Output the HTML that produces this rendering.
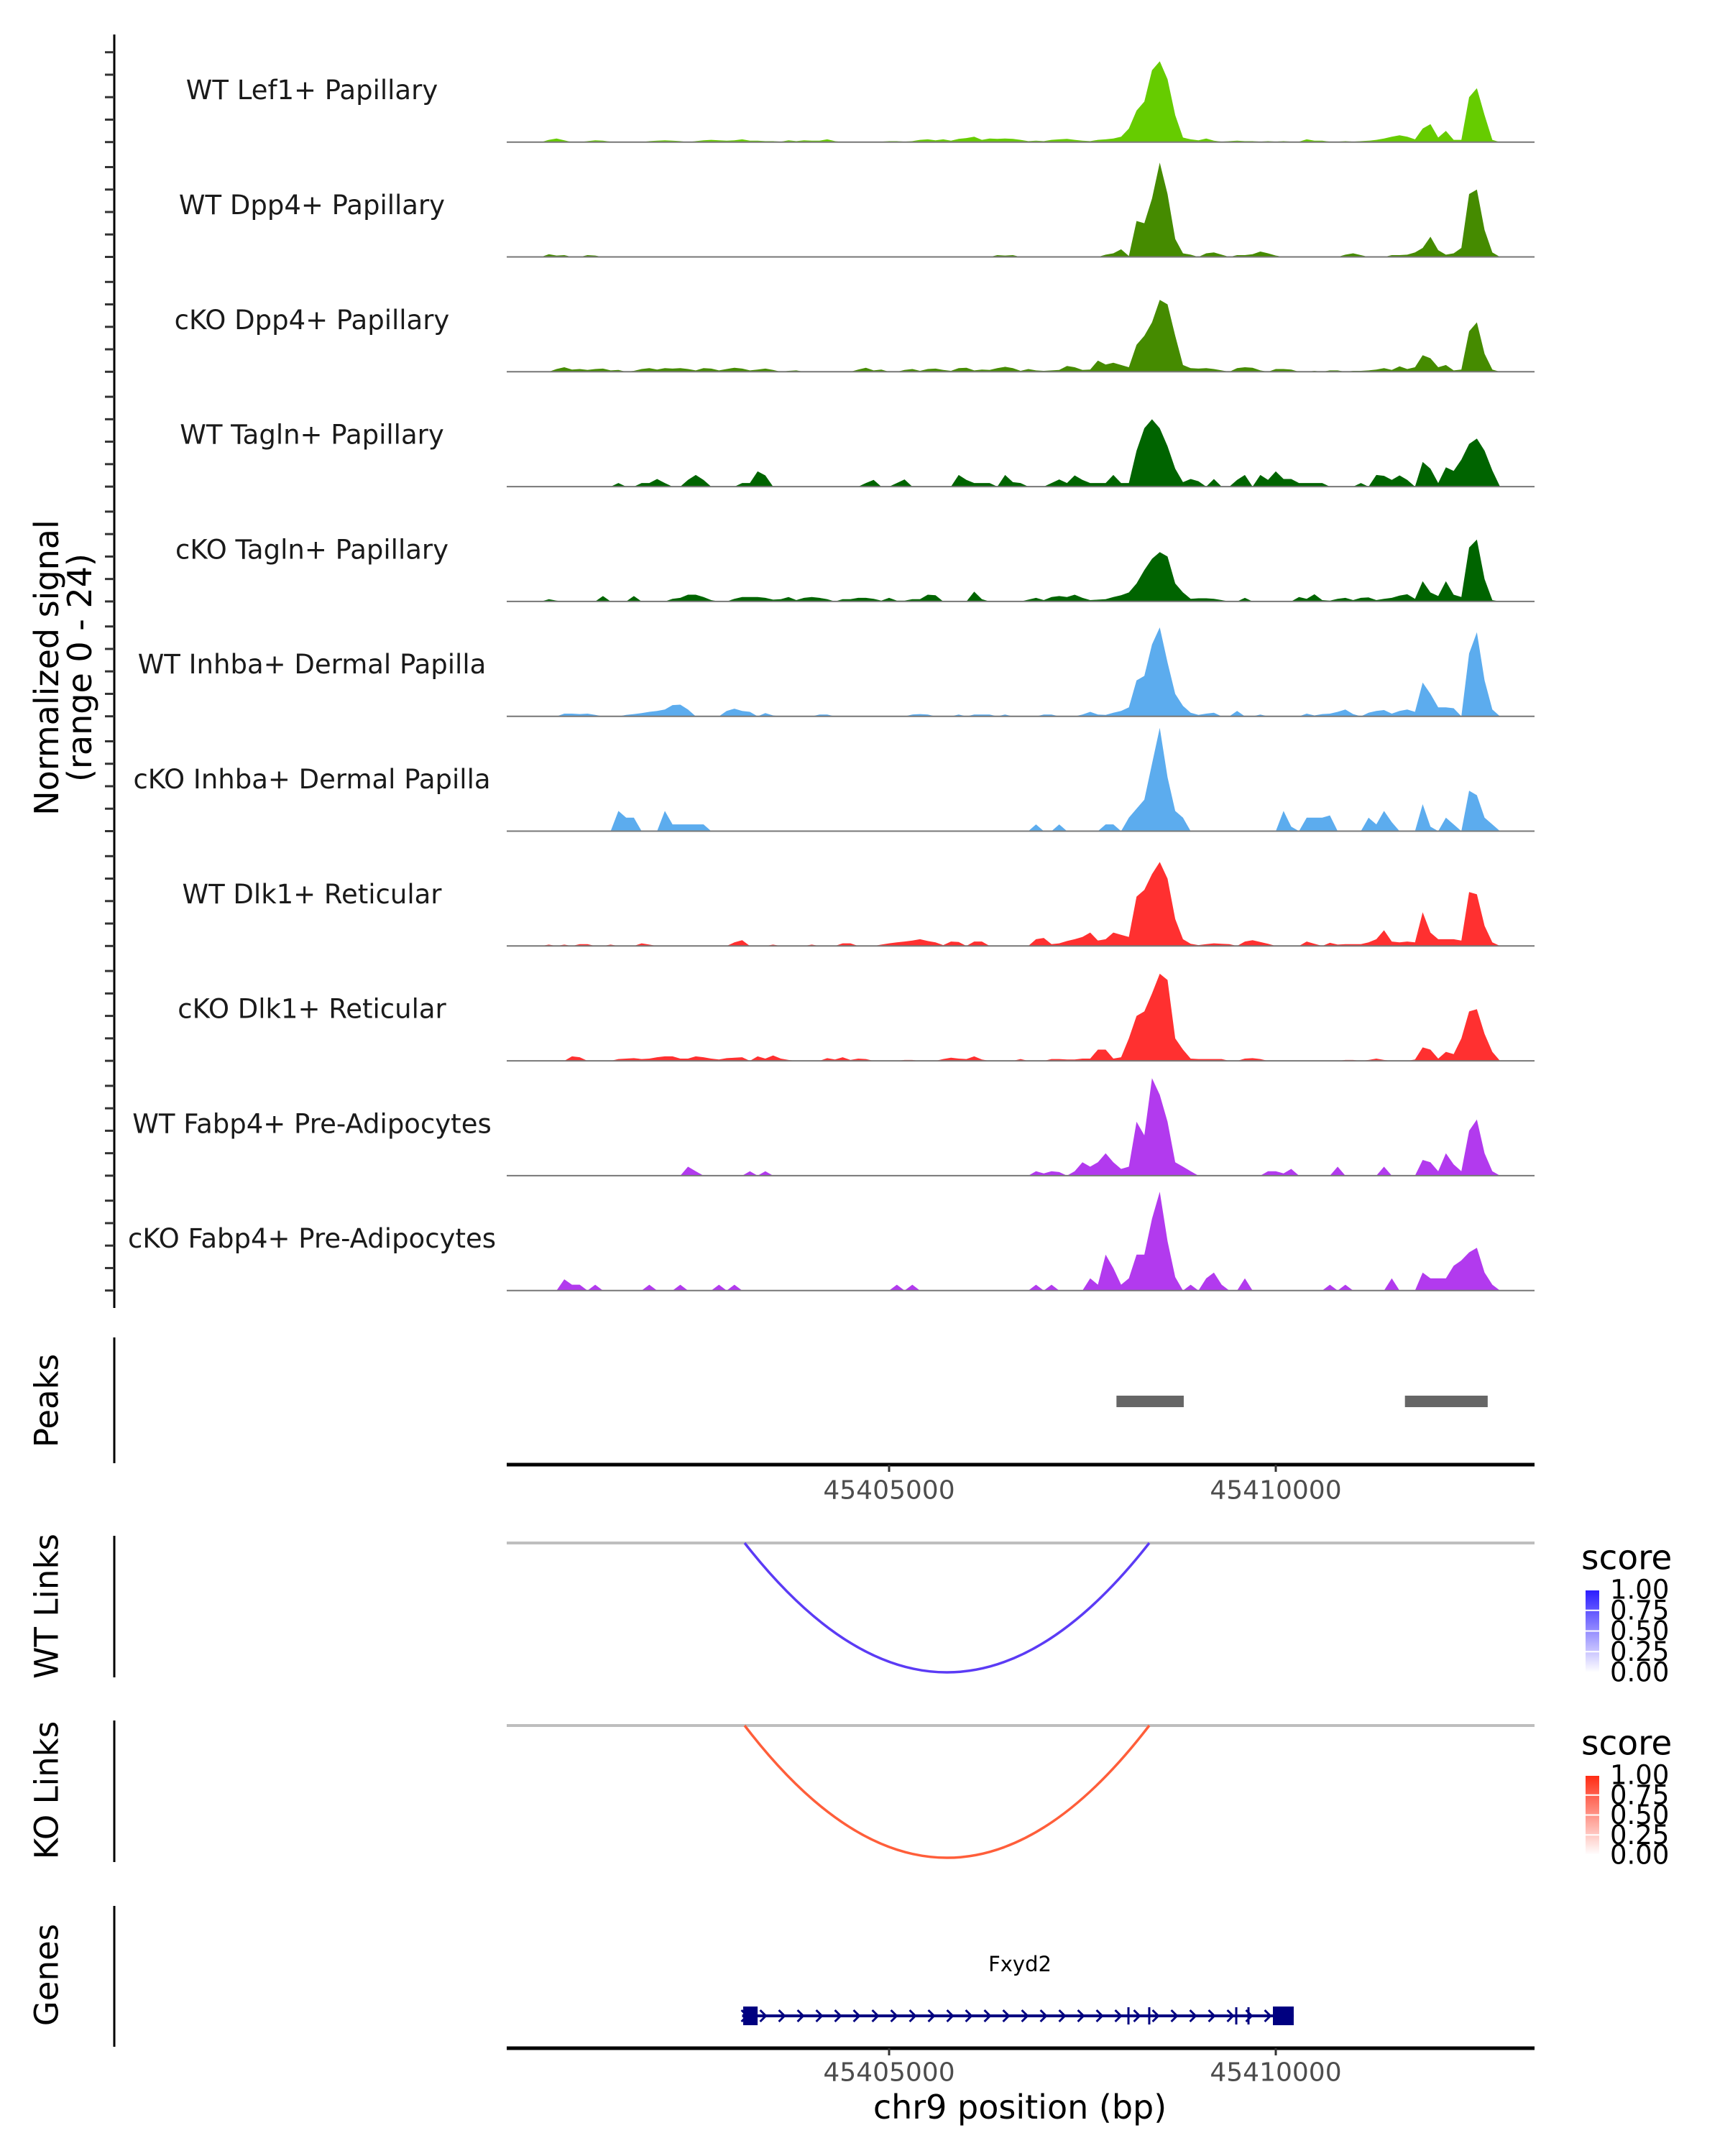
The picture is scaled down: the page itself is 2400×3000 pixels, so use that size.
<!DOCTYPE html>
<html><head><meta charset="utf-8">
<style>
html,body{margin:0;padding:0;background:#fff;}
svg{display:block;font-family:"DejaVu Sans","Liberation Sans",sans-serif;}
</style></head>
<body>
<svg id="chart" width="2400" height="3000" viewBox="0 0 2400 3000" xmlns="http://www.w3.org/2000/svg">
  <rect x="0" y="0" width="2400" height="3000" fill="#fff"/>
  <g id="tracks"></g>
  <line x1="159" y1="48" x2="159" y2="1820" stroke="#000" stroke-width="3"/>
  <g id="yticks"></g>
  <text transform="translate(65,929) rotate(-90)" text-anchor="middle" dominant-baseline="central" font-size="46" fill="#000">Normalized signal</text>
  <text transform="translate(111,929) rotate(-90)" text-anchor="middle" dominant-baseline="central" font-size="46" fill="#000">(range 0 - 24)</text>

  <!-- Peaks panel -->
  <line x1="159" y1="1861" x2="159" y2="2036" stroke="#000" stroke-width="3"/>
  <text transform="translate(65,1949) rotate(-90)" text-anchor="middle" dominant-baseline="central" font-size="45">Peaks</text>
  <g id="peaks"></g>
  <line x1="705" y1="2038" x2="2135" y2="2038" stroke="#000" stroke-width="5"/>
  <g id="xaxis1"></g>

  <!-- WT Links -->
  <line x1="159" y1="2137" x2="159" y2="2334" stroke="#000" stroke-width="3"/>
  <text transform="translate(65,2235) rotate(-90)" text-anchor="middle" dominant-baseline="central" font-size="45">WT Links</text>
  <line x1="705" y1="2147" x2="2135" y2="2147" stroke="#bebebe" stroke-width="4"/>
  <g id="wtlinks"></g>
  <defs>
    <linearGradient id="gblue" x1="0" y1="1" x2="0" y2="0">
      <stop offset="0" stop-color="#ffffff"/><stop offset="1" stop-color="#2a1bff"/>
    </linearGradient>
    <linearGradient id="gred" x1="0" y1="1" x2="0" y2="0">
      <stop offset="0" stop-color="#ffffff"/><stop offset="1" stop-color="#ff2a12"/>
    </linearGradient>
  </defs>
  <g>
    <text x="2200" y="2168" dominant-baseline="central" font-size="47">score</text>
    <rect x="2206" y="2212" width="19" height="115" fill="url(#gblue)"/>
    <g id="wtleg"></g>
  </g>

  <!-- KO Links -->
  <line x1="159" y1="2394" x2="159" y2="2591" stroke="#000" stroke-width="3"/>
  <text transform="translate(65,2491) rotate(-90)" text-anchor="middle" dominant-baseline="central" font-size="45">KO Links</text>
  <line x1="705" y1="2401" x2="2135" y2="2401" stroke="#bebebe" stroke-width="4"/>
  <g id="kolinks"></g>
  <g>
    <text x="2200" y="2426" dominant-baseline="central" font-size="47">score</text>
    <rect x="2206" y="2470" width="19" height="111" fill="url(#gred)"/>
    <g id="koleg"></g>
  </g>

  <!-- Genes -->
  <line x1="159" y1="2652" x2="159" y2="2848" stroke="#000" stroke-width="3"/>
  <text transform="translate(65,2748) rotate(-90)" text-anchor="middle" dominant-baseline="central" font-size="45">Genes</text>
  <text x="1419" y="2733" text-anchor="middle" dominant-baseline="central" font-size="29">Fxyd2</text>
  <g id="gene"></g>
  <line x1="705" y1="2850" x2="2135" y2="2850" stroke="#000" stroke-width="5"/>
  <g id="xaxis2"></g>
  <text x="1419" y="2932" text-anchor="middle" dominant-baseline="central" font-size="46">chr9 position (bp)</text>
</svg>
<script>
const trackNames = ["WT Lef1+ Papillary","WT Dpp4+ Papillary","cKO Dpp4+ Papillary","WT Tagln+ Papillary","cKO Tagln+ Papillary","WT Inhba+ Dermal Papilla","cKO Inhba+ Dermal Papilla","WT Dlk1+ Reticular","cKO Dlk1+ Reticular","WT Fabp4+ Pre-Adipocytes","cKO Fabp4+ Pre-Adipocytes"];
const trackColors = ["#66CC00","#458B00","#458B00","#006400","#006400","#5CACEE","#5CACEE","#FF3030","#FF3030","#B23AEE","#B23AEE"];
const binStart = 45400100;
const binSize = 100;
const sigWTLef1 = [0,0,0,0,0,0.5,0.8,0.4,0,0, 0.2,0.4,0.3,0.1,0,0,0,0,0.2,0.3, 0.4,0.3,0.2,0,0.2,0.4,0.5,0.4,0.3,0.4, 0.6,0.3,0.3,0.2,0.2,0.1,0.4,0.2,0.4,0.3, 0.3,0.6,0.2,0,0,0,0,0,0.1,0.2, 0.2,0.1,0.2,0.5,0.6,0.4,0.6,0.3,0.7,0.9, 1.2,0.5,0.8,0.7,0.8,0.7,0.5,0.2,0.3,0.2, 0.5,0.6,0.7,0.5,0.3,0.2,0.5,0.6,0.8,1.2, 3,7,9,16,18,14,6,1,0.6,0.4, 0.8,0.3,0.1,0.2,0.3,0.2,0.2,0.1,0.2,0.1, 0.2,0.1,0.1,0.6,0.3,0.3,0.1,0.1,0.2,0.1, 0.2,0.3,0.5,0.8,1.2,1.5,1.2,0.6,3,4, 1,2.5,0.5,0.5,10,12,6,0.5,0,0];
const sigWTDpp4 = [0,0,0,0,0,0.6,0.3,0.4,0,0, 0.4,0.3,0,0,0,0,0,0,0,0, 0,0,0,0,0,0,0,0,0,0, 0,0,0,0,0,0,0,0,0,0, 0,0,0,0,0,0,0,0,0,0, 0,0,0,0,0,0,0,0,0,0, 0,0,0,0.4,0.3,0.4,0,0,0,0, 0,0,0,0,0,0,0,0.5,0.8,1.7, 0.2,8,7.5,13,21,14,4,0.8,0.5,0, 0.8,1,0.5,0,0.4,0.4,0.6,1.2,0.8,0.3, 0,0,0,0,0,0,0,0,0.5,0.8, 0.4,0,0,0,0.4,0.4,0.5,1,2,4.5, 1.5,0.5,0.8,2,14,15,6,1,0,0];
const sigKODpp4 = [0,0,0,0,0,0,0.6,1,0.5,0.6, 0.4,0.6,0.7,0.3,0.4,0,0.2,0.6,0.8,0.5, 0.8,0.7,0.8,0.6,0.3,0.8,0.7,0.3,0.6,0.9, 0.7,0.3,0.5,0.7,0.4,0,0.2,0.3,0,0, 0,0,0,0,0,0.5,0.9,0.3,0.5,0, 0,0.4,0.6,0.2,0.6,0.7,0.4,0.2,0.8,0.9, 0.3,0.5,0.4,0.8,1.1,0.8,0.2,0.6,0.3,0.2, 0.3,0.4,1.3,1,0.4,0.5,2.5,1.6,2,1.5, 1,6,8,11,16,15,8,1.5,0.8,0.7, 0.8,0.6,0.3,0,0.8,1,0.9,0.3,0,0.6, 0.6,0.5,0,0,0.2,0,0.3,0.3,0,0.2, 0.2,0.3,0.5,0.8,0.4,1.2,0.6,1,3.7,3, 1,1.5,0.3,0.5,9,11,4,0.5,0,0];
const sigWTTagln = [0,0,0,0,0,0,0,0,0,0, 0,0,0,0,0.8,0,0,0.8,0.8,1.7, 0.8,0,0,1.5,2.6,1.5,0,0,0,0, 0.8,0.8,3.4,2.5,0,0,0,0,0,0, 0,0,0,0,0,0,0.8,1.5,0,0, 0.8,1.6,0,0,0,0,0,0,2.6,1.5, 0.8,0.8,0.8,0,2.6,1,0.8,0,0,0, 0.8,1.6,0.8,2.5,1.5,0.8,0.8,0.8,2.6,0.8, 0.8,8,13,15,13,9,4,1,1.7,1.2, 0,1.7,0,0,1.5,2.6,0,2.6,1.5,3.4, 1.7,1.7,0.8,0.8,0.8,0.8,0,0,0,0, 0.8,0,2.6,2.4,1.5,2.5,1.5,0,5.5,4, 0.8,4.3,3.5,6,9.5,10.7,8,3.6,0,0];
const sigKOTagln = [0,0,0,0,0,0.5,0.2,0,0,0, 0,0,1.2,0,0,0,1.2,0,0,0, 0,0.6,0.8,1.5,1.5,1,0.3,0,0,0.6, 1,1,1,0.8,0.4,0.5,1,0.3,0.8,1, 0.8,0.5,0,0.5,0.5,0.8,0.8,0.6,0.2,0.8, 0.2,0.2,0.5,0.5,1.5,1.4,0,0,0,0, 2.2,0.5,0,0,0,0,0,0.4,0.8,0.3, 1,1.2,1,1.5,0.8,0.3,0.4,0.5,1,1.4, 2,4,7,9.5,11,10,4,2,0.6,0.7, 0.7,0.6,0.3,0,0,0.8,0,0,0,0, 0,0,1,0.6,1.6,0.3,0.2,0.6,0.8,0.3, 0.8,0.9,0.3,0.6,0.8,1.3,1.6,0.6,4.5,2, 1.2,4.5,1.5,1,12,13.8,5,0.3,0,0];
const sigWTInhba = [0,0,0,0,0,0,0,0.6,0.6,0.5, 0.6,0.3,0,0,0,0.3,0.5,0.7,1,1.2, 1.5,2.5,2.6,1.5,0,0,0,0,1.2,1.7, 1.2,1,0,0.7,0.2,0,0,0,0,0, 0.4,0.4,0,0,0,0,0,0,0,0, 0,0,0.4,0.5,0.4,0,0,0,0.4,0, 0.4,0.4,0.4,0,0.4,0,0,0,0,0.4, 0.4,0,0,0,0.4,1,0.4,0.3,0.8,1.2, 2,8,9,16,19.8,12,5,2.3,0.8,0.3, 0.6,0.8,0,0,1.2,0,0,0.4,0,0, 0,0,0,0.6,0.2,0.5,0.6,1,1.5,0.5, 0,0.8,1.2,1.4,0.6,1.2,1.5,1,7.5,5, 2,2,1.8,0,14,18.7,8,1.5,0,0];
const sigKOInhba = [0,0,0,0,0,0,0,0,0,0, 0,0,0,0,4.5,3,3,0,0,0, 4.5,1.5,1.5,1.5,1.5,1.5,0,0,0,0, 0,0,0,0,0,0,0,0,0,0, 0,0,0,0,0,0,0,0,0,0, 0,0,0,0,0,0,0,0,0,0, 0,0,0,0,0,0,0,0,1.5,0, 0,1.5,0,0,0,0,0,1.5,1.5,0, 3,5,7,15,23,12,4.5,3,0,0, 0,0,0,0,0,0,0,0,0,0, 4.5,1,0,3,3,3,3.5,0,0,0, 0,3,1.5,4.5,2,0,0,0,6,1, 0,3,1.5,0,9,8,3,1.5,0,0];
const sigWTDlk1 = [0,0,0,0,0,0.3,0,0.3,0,0.4, 0.4,0,0,0.3,0,0,0,0.6,0.3,0, 0,0,0,0,0,0,0,0,0,0.8, 1.3,0,0,0,0.3,0,0,0,0,0.3, 0,0,0,0.6,0.6,0,0,0,0.3,0.6, 0.8,1,1.2,1.5,1.1,0.8,0.2,1,0.9,0, 1,1,0,0,0,0,0,0,1.5,1.8, 0.4,0.6,1.1,1.5,2,3,1.2,1.5,3,2.5, 2,11,12.5,16,18.7,15,6,1.5,0.5,0.2, 0.4,0.6,0.5,0.4,0,1,1.3,0.9,0.5,0, 0,0,0,1,0.5,0,0.7,0.3,0.4,0.4, 0.4,0.8,1.5,3.5,1,0.8,1,0.8,7.5,3, 1.5,1.5,1.5,1.2,12,11.5,4.5,0.8,0,0];
const sigKODlk1 = [0,0,0,0,0,0,0,0,1,0.8, 0,0,0,0,0.4,0.5,0.6,0.4,0.5,0.8, 1,1,0.5,0.5,1,0.8,0.5,0.3,0.6,0.7, 0.8,0,1,0.5,1.2,0.5,0.2,0,0,0, 0,0.6,0.3,0.8,0.2,0.5,0.4,0,0,0, 0,0.2,0.2,0,0,0,0.4,0.7,0.5,0.4, 1,0.3,0,0,0,0,0.4,0,0,0, 0.4,0.4,0.3,0.3,0.5,0.5,2.5,2.5,0.5,0.8, 5,10,11,15,19.4,18,5,2.5,0.5,0.4, 0.4,0.4,0.4,0,0,0.5,0.6,0.4,0,0, 0,0,0,0,0,0,0,0,0.2,0.2, 0,0.2,0.5,0.2,0,0,0,0.3,3,2.5, 0.5,2,1.5,5,11,11.5,6,2,0,0];
const sigWTFabp4 = [0,0,0,0,0,0,0,0,0,0, 0,0,0,0,0,0,0,0,0,0, 0,0,0,2,1,0,0,0,0,0, 0,1,0,1,0,0,0,0,0,0, 0,0,0,0,0,0,0,0,0,0, 0,0,0,0,0,0,0,0,0,0, 0,0,0,0,0,0,0,0,1,0.5, 1,0.8,0,1,3,2,3,5,3,1.5, 2,12,9,21.7,18,12,3,2,1,0, 0,0,0,0,0,0,0,0,1,1, 0.5,1.5,0,0,0,0,0,2,0,0, 0,0,0,2,0,0,0,0,3.5,3, 1,5,2.5,1,10,12.5,5,1,0,0];
const sigKOFabp4 = [0,0,0,0,0,0,0,2.5,1.3,1.3, 0,1.3,0,0,0,0,0,0,1.3,0, 0,0,1.3,0,0,0,0,1.3,0,1.3, 0,0,0,0,0,0,0,0,0,0, 0,0,0,0,0,0,0,0,0,0, 1.3,0,1.3,0,0,0,0,0,0,0, 0,0,0,0,0,0,0,0,1.3,0, 1.3,0,0,0,0,2.7,1.3,8,5,1.3, 2.7,8,8,16,22,11,3,0,1.3,0, 2.7,4,1.3,0,0,2.7,0,0,0,0, 0,0,0,0,0,0,1.3,0,1.3,0, 0,0,0,0,2.7,0,0,0,4,2.7, 2.7,2.7,5.5,6.7,8.5,9.5,4,1.3,0,0];
const signals = [sigWTLef1,sigWTDpp4,sigKODpp4,sigWTTagln,sigKOTagln,sigWTInhba,sigKOInhba,sigWTDlk1,sigKODlk1,sigWTFabp4,sigKOFabp4];
const yTickValues = [0,5,10,15,20];
const xTickValues = [45405000,45410000];
const peakStarts = [45407940,45411670];
const peakEnds = [45408810,45412740];
const wtLinkStart = 45403132, wtLinkEnd = 45408364, wtLinkScore = 0.8;
const koLinkStart = 45403132, koLinkEnd = 45408364, koLinkScore = 0.8;
const legendTicks = ["1.00","0.75","0.50","0.25","0.00"];
const geneStart = 45403100, geneEnd = 45410232;
const exonStarts = [45403113,45409963];
const exonEnds = [45403300,45410232];
const geneMarks = [45408095,45408364,45409489,45409647];

const NS = "http://www.w3.org/2000/svg";
const X0 = 705, X1 = 2135, XREF = 1237, PXBP = 0.1076, REFBP = 45405000;
function xs(bp){ return XREF + (bp - REFBP) * PXBP; }
const baseTop = 197.7, trackStep = 159.8, unitPx = 6.25;
function ys(k, v){ return baseTop + trackStep * k - v * unitPx; }
function mk(tag, attrs, parent){ const e = document.createElementNS(NS, tag); for (const a in attrs) e.setAttribute(a, attrs[a]); parent.appendChild(e); return e; }

const tracksG = document.getElementById("tracks");
const ytG = document.getElementById("yticks");
signals.forEach((sig, k) => {
  const base = ys(k, 0);
  let d = "M" + xs(binStart).toFixed(1) + "," + base.toFixed(1);
  sig.forEach((v, i) => { d += " L" + xs(binStart + binSize * i).toFixed(1) + "," + ys(k, v).toFixed(1); });
  d += " L" + xs(binStart + binSize * (sig.length - 1)).toFixed(1) + "," + base.toFixed(1) + " Z";
  const p = mk("path", {d: d, fill: trackColors[k]}, tracksG);
  
  
  const bl = mk("line", {x1: X0, x2: X1, y1: base, y2: base, stroke: "#777", "stroke-width": 2}, tracksG);
  
  
  const t = mk("text", {x: 434, y: base - 72, "text-anchor": "middle", "dominant-baseline": "central", "font-size": 37, fill: "#1a1a1a"}, tracksG);
  t.textContent = trackNames[k];
  
  
  yTickValues.forEach(v => {
    const tk = mk("line", {x1: 146, x2: 159, y1: ys(k, v), y2: ys(k, v), stroke: "#333", "stroke-width": 3}, ytG);
    
    
  });
});

const pk = document.getElementById("peaks");
peakStarts.forEach((s, i) => {
  const r = mk("rect", {x: xs(s), y: 1942, width: xs(peakEnds[i]) - xs(s), height: 16, fill: "#666"}, pk);
  
  
});

[["xaxis1", 2038, 2074], ["xaxis2", 2850, 2884]].forEach(([id, ay, ty]) => {
  const g = document.getElementById(id);
  xTickValues.forEach(v => {
    const tk = mk("line", {x1: xs(v), x2: xs(v), y1: ay, y2: ay + 10, stroke: "#333", "stroke-width": 3}, g);
    
    
    const tl = mk("text", {x: xs(v), y: ty, "text-anchor": "middle", "dominant-baseline": "central", "font-size": 36, fill: "#4d4d4d"}, g);
    tl.textContent = String(v);
    
    
  });
});

function arc(gid, s, e, top, bottom, color){
  const g = document.getElementById(gid);
  const a = xs(s), b = xs(e);
  const qc = 2 * bottom - top;
  const p = mk("path", {d: `M${a},${top} Q${(a + b) / 2},${qc} ${b},${top}`, fill: "none", stroke: color, "stroke-width": 3.5}, g);
  
  
}
arc("wtlinks", wtLinkStart, wtLinkEnd, 2147, 2327, "#5B3BF5");
arc("kolinks", koLinkStart, koLinkEnd, 2401, 2585, "#FF5E3A");

function legend(gid, top, h){
  const g = document.getElementById(gid);
  legendTicks.forEach((lab, i) => {
    const y = top + h * i / (legendTicks.length - 1);
    const tk = mk("line", {x1: 2206, x2: 2225, y1: y, y2: y, stroke: "#fff", "stroke-width": 2}, g);
    
    
    const t = mk("text", {x: 2240, y: y, "dominant-baseline": "central", "font-size": 37, fill: "#000"}, g);
    t.textContent = lab;
    
    
  });
}
legend("wtleg", 2212, 115);
legend("koleg", 2470, 111);

const gg = document.getElementById("gene");
const gy = 2805;
const gl = mk("line", {x1: xs(geneStart), x2: xs(geneEnd), y1: gy, y2: gy, stroke: "#000080", "stroke-width": 4}, gg);


for (let x = xs(geneStart) + 4; x < xs(geneEnd) - 20; x += 26) {
  const ch = mk("polyline", {points: `${x - 5},${gy - 8} ${x + 3},${gy} ${x - 5},${gy + 8}`, fill: "none", stroke: "#000080", "stroke-width": 3}, gg);
  
  
}
geneMarks.forEach(m => {
  const l = mk("line", {x1: xs(m), x2: xs(m), y1: gy - 12, y2: gy + 12, stroke: "#000080", "stroke-width": 3}, gg);
  
  
});
exonStarts.forEach((s, i) => {
  const r = mk("rect", {x: xs(s), y: gy - 13, width: xs(exonEnds[i]) - xs(s), height: 26, fill: "#000080"}, gg);
  
  
});
</script>
</body></html>
